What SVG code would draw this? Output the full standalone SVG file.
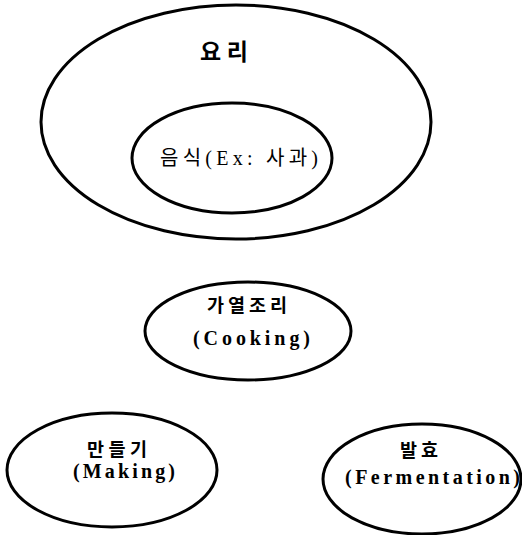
<svg xmlns="http://www.w3.org/2000/svg" width="522" height="535" viewBox="0 0 522 535">
<style>
.e{fill:none;stroke:#000;stroke-width:3}
.t{font-family:"Liberation Serif","Noto Sans CJK KR",serif;font-size:20px;fill:#000}
.k{font-family:"Noto Sans CJK KR","Liberation Serif",sans-serif;font-size:18.5px;font-weight:bold;fill:#000}
.b{font-weight:bold}
</style>
<rect width="522" height="535" fill="#fff"/>
<g id="yori">
<ellipse class="e" cx="236" cy="122" rx="195" ry="117"/>
<text class="k" x="200" y="60" style="font-size:23px" textLength="48" lengthAdjust="spacing">요리</text>
</g>
<g id="eumsik">
<ellipse class="e" cx="232" cy="158" rx="100" ry="55"/>
<text class="t" x="160" y="165" style="font-size:20px" textLength="158" lengthAdjust="spacing">음식(Ex: 사과)</text>
</g>
<g id="cooking">
<ellipse class="e" cx="248" cy="331" rx="103" ry="49"/>
<text class="k" x="207" y="312" textLength="80" lengthAdjust="spacing">가열조리</text>
<text class="t b" x="193" y="345" textLength="117" lengthAdjust="spacing">(Cooking)</text>
</g>
<g id="making">
<ellipse class="e" cx="112" cy="470" rx="105" ry="57"/>
<text class="k" x="87" y="456" textLength="60" lengthAdjust="spacing">만들기</text>
<text class="t b" x="73" y="478" textLength="102" lengthAdjust="spacing">(Making)</text>
</g>
<g id="fermentation">
<ellipse class="e" cx="422" cy="479" rx="99" ry="55"/>
<text class="k" x="400" y="457" textLength="38" lengthAdjust="spacing">발효</text>
<text class="t b" x="345" y="484" textLength="175" lengthAdjust="spacing">(Fermentation)</text>
</g>
<g id="connectors"></g>
</svg>
